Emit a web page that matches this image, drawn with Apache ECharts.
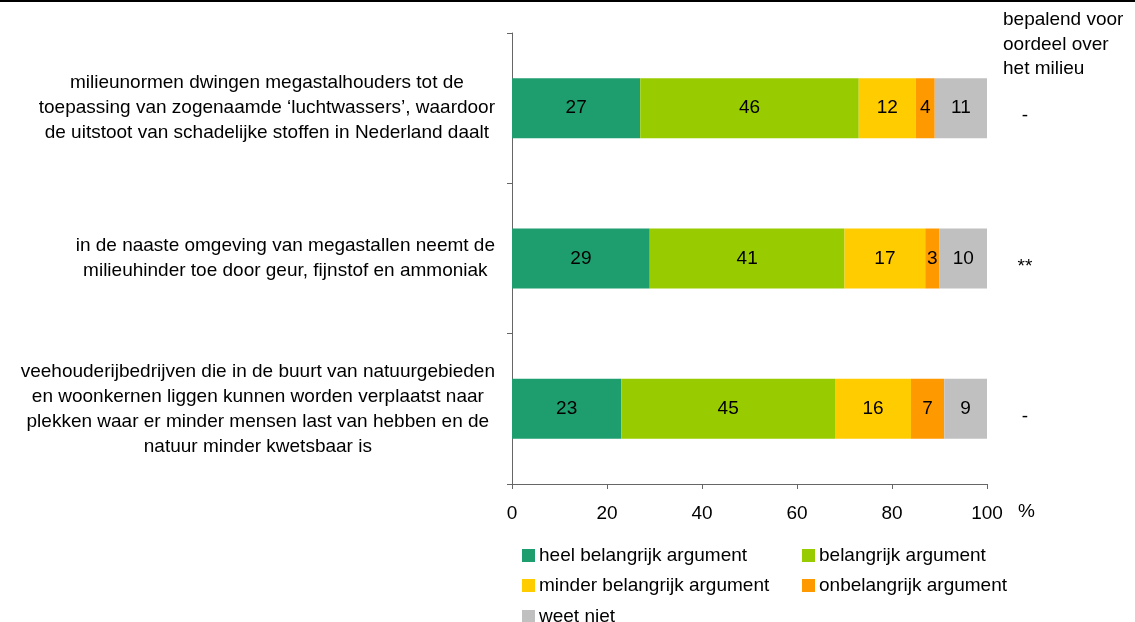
<!DOCTYPE html>
<html>
<head>
<meta charset="utf-8">
<script src="https://cdn.jsdelivr.net/npm/echarts@6/dist/echarts.min.js"></script>
<style>
  html, body { margin: 0; padding: 0; background: #fff; }
  #main { width: 1135px; height: 622px; }
</style>
</head>
<body>
<div id="main"></div>
<script>
  // stellingen (van boven naar beneden)
  var categories = [
    'milieunormen dwingen megastalhouders tot de\ntoepassing van zogenaamde \u2018luchtwassers\u2019, waardoor\nde uitstoot van schadelijke stoffen in Nederland daalt',
    'in de naaste omgeving van megastallen neemt de\nmilieuhinder toe door geur, fijnstof en ammoniak',
    'veehouderijbedrijven die in de buurt van natuurgebieden\nen woonkernen liggen kunnen worden verplaatst naar\nplekken waar er minder mensen last van hebben en de\nnatuur minder kwetsbaar is'
  ];
  var heelBelangrijk = [27, 29, 23];
  var belangrijk = [46, 41, 45];
  var minderBelangrijk = [12, 17, 16];
  var onbelangrijk = [4, 3, 7];
  var weetNiet = [11, 10, 9];
  // kolom "bepalend voor oordeel over het milieu"
  var bepalend = ['-', '**', '-'];
  var xTicks = [0, 20, 40, 60, 80, 100];

  var FONT = '"Liberation Sans", Arial, sans-serif';
  var FS = 19;
  var names = ['heel belangrijk argument', 'belangrijk argument', 'minder belangrijk argument', 'onbelangrijk argument', 'weet niet'];
  var colors = ['#1E9E6F', '#99CC00', '#FFCC00', '#FF9900', '#C0C0C0'];
  var values = [heelBelangrijk, belangrijk, minderBelangrijk, onbelangrijk, weetNiet];

  var myChart = echarts.init(document.getElementById('main'));

  // legenda: elk item los geplaatst
  var legendPos = [[522, 546], [802, 546], [522, 576], [802, 576], [522, 607]];
  var legends = names.map(function (n, i) {
    return {
      data: [n],
      left: legendPos[i][0],
      top: legendPos[i][1],
      padding: 0,
      itemWidth: 13,
      itemHeight: 13,
      itemGap: 0,
      icon: 'rect',
      selectedMode: false,
      textStyle: { fontFamily: FONT, fontSize: FS, color: '#000', padding: [0, 0, 0, -1] }
    };
  });

  var option = {
    animation: false,
    legend: legends,
    grid: { left: 512, right: 148, top: 33, bottom: 138 },
    xAxis: {
      type: 'value',
      min: 0,
      max: 100,
      interval: 20,
      axisLine: { show: true, lineStyle: { color: '#666', width: 1 } },
      axisTick: { show: true, length: 5, lineStyle: { color: '#666' } },
      splitLine: { show: false },
      axisLabel: {
        margin: 20,
        fontFamily: FONT,
        fontSize: FS,
        color: '#000',
        formatter: function (v) { return xTicks.indexOf(v) >= 0 ? String(v) : ''; }
      }
    },
    yAxis: {
      type: 'category',
      inverse: true,
      data: categories,
      axisLine: { show: true, lineStyle: { color: '#666', width: 1 } },
      axisTick: { show: true, length: 5, lineStyle: { color: '#666' } },
      axisLabel: { show: false }
    },
    series: names.map(function (n, i) {
      return {
        name: n,
        type: 'bar',
        stack: 'totaal',
        barWidth: 60,
        data: values[i],
        itemStyle: { color: colors[i] },
        label: {
          show: true,
          position: 'inside',
          fontFamily: FONT,
          fontSize: FS,
          color: '#000'
        }
      };
    })
  };
  myChart.setOption(option);

  // categorielabels: gecentreerde tekstblokken, rechts tegen de as
  var ctx = document.createElement('canvas').getContext('2d');
  ctx.font = FS + 'px ' + FONT;
  function blockWidth(t) {
    return Math.max.apply(null, t.split('\n').map(function (l) { return ctx.measureText(l).width; }));
  }

  var graphics = [
    { type: 'rect', shape: { x: 0, y: 0, width: 1135, height: 2 }, style: { fill: '#000' } },
    {
      type: 'text', left: 1003, top: 8,
      style: { text: 'bepalend voor\noordeel over\nhet milieu', fontFamily: FONT, fontSize: FS, lineHeight: 24.5, fill: '#000' }
    }
  ];
  categories.forEach(function (c, i) {
    var y = myChart.convertToPixel({ yAxisIndex: 0 }, i);
    graphics.push({
      type: 'text', x: 495 - blockWidth(c) / 2, y: y,
      style: {
        text: c, fontFamily: FONT, fontSize: FS, lineHeight: 25, fill: '#000',
        align: 'center', verticalAlign: 'middle'
      }
    });
    graphics.push({
      type: 'text', x: 1025, y: y + 8,
      style: { text: bepalend[i], fontFamily: FONT, fontSize: FS, fill: '#000', align: 'center', verticalAlign: 'middle' }
    });
  });
  var pct = myChart.convertToPixel({ xAxisIndex: 0 }, 100);
  graphics.push({
    type: 'text', x: pct + 31, y: 512,
    style: { text: '%', fontFamily: FONT, fontSize: FS, fill: '#000', verticalAlign: 'middle' }
  });
  myChart.setOption({ graphic: graphics });
</script>
</body>
</html>
